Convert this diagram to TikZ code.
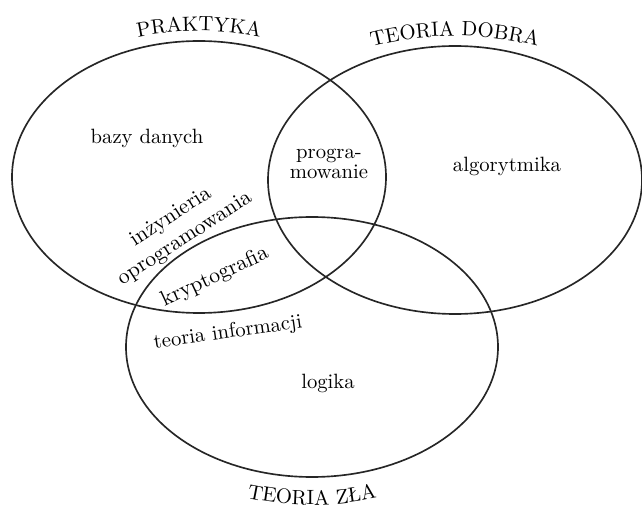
\documentclass[tikz,border=0pt]{standalone}
\usetikzlibrary{decorations.text}

\newcommand\vennfont{\fontsize{10}{10}\selectfont}

\tikzset{
  venn/.style = {draw=black!85, line width=0.8pt},
  lbl/.style = {align=center, inner sep=1pt, font=\vennfont},
  arclbl/.style = {
    decorate, decoration={text along path, text={#1},
      text align=center}
  },
}

\begin{document}
\begin{tikzpicture}[x=0.017cm, y=0.017cm]

  \useasboundingbox (0,0) rectangle (642,-513);

  %% centres of the three sets
  \coordinate (cP) at (199,-177);
  \coordinate (cD) at (455,-180);
  \coordinate (cZ) at (312,-347);

  \draw[venn] (cP) ellipse [x radius=187, y radius=136];
  \draw[venn] (cD) ellipse [x radius=187, y radius=134];
  \draw[venn] (cZ) ellipse [x radius=186, y radius=130];

  %% set names along the outlines
  \path[arclbl=PRAKTYKA] (cP) ++(125:212 and 146)
    arc[start angle=125, end angle=55, x radius=212, y radius=146];
  \path[arclbl=TEORIA DOBRA] (cD) ++(125:220 and 144)
    arc[start angle=125, end angle=55, x radius=220, y radius=144];
  \path[arclbl=TEORIA ZŁA] (cZ) ++(235:220 and 158)
    arc[start angle=235, end angle=305, x radius=220, y radius=158];

  %% contents
  \node[lbl] (bazy) at (147,-138) {bazy danych};
  \node[lbl] (prog) at (329,-164) {progra-\\mowanie};
  \node[lbl] (algo) at (507,-166) {algorytmika};
  \node[lbl, rotate=33, font=\fontsize{10.5}{12.5}\selectfont]
    (inz) at (178,-228) {inżynieria\\oprogramowania};
  \node[lbl, rotate=25, font=\fontsize{10.5}{12}\selectfont]
    (kryp) at (215,-277) {kryptografia};
  \node[lbl, rotate=8] (info) at (228,-333) {teoria informacji};
  \node[lbl] (logika) at (328,-383) {logika};

\end{tikzpicture}
\end{document}
